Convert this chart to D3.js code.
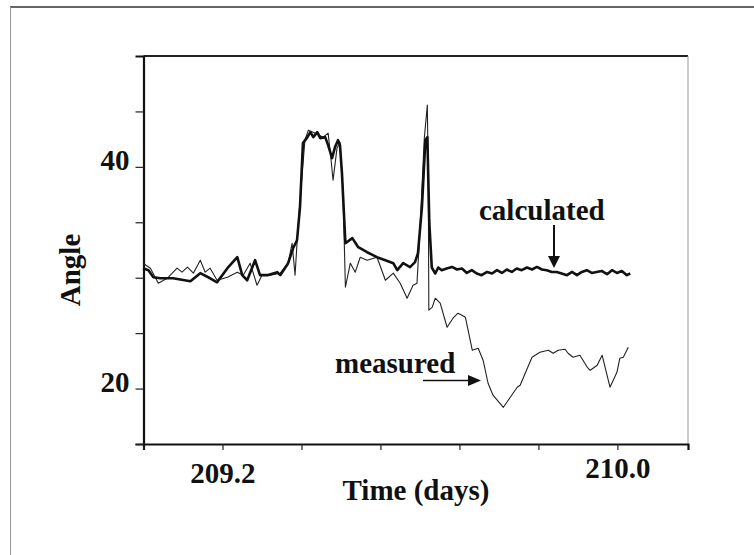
<!DOCTYPE html>
<html>
<head>
<meta charset="utf-8">
<script src="https://cdn.jsdelivr.net/npm/d3@7"></script>
<style>
  body { margin: 0; background: #fff; }
  text { font-family: "Liberation Serif", "Times New Roman", serif; font-weight: bold; fill: #111; }
</style>
</head>
<body>
<div id="chart"></div>
<script>
// calculated angle (thick line)
const calcTime = [209.039, 209.050, 209.060, 209.074, 209.100, 209.135, 209.155, 209.175, 209.189, 209.210,
  209.230, 209.240, 209.250, 209.266, 209.276, 209.291, 209.311, 209.317, 209.333, 209.343,
  209.351, 209.357, 209.363, 209.372, 209.378, 209.384, 209.392, 209.398, 209.408, 209.414,
  209.422, 209.428, 209.434, 209.438, 209.442, 209.449, 209.463, 209.475, 209.493, 209.513,
  209.530, 209.546, 209.554, 209.566, 209.580, 209.590, 209.596, 209.604, 209.611, 209.615,
  209.619, 209.624, 209.631, 209.637, 209.644, 209.654, 209.665, 209.675, 209.685, 209.695,
  209.705, 209.715, 209.725, 209.736, 209.746, 209.756, 209.766, 209.776, 209.786, 209.796,
  209.806, 209.817, 209.827, 209.837, 209.847, 209.857, 209.867, 209.877, 209.887, 209.898,
  209.908, 209.918, 209.928, 209.938, 209.948, 209.958, 209.968, 209.979, 209.989, 209.999,
  210.009, 210.019, 210.026];
const calcAngle = [30.86, 30.68, 30.05, 29.95, 29.95, 29.68, 30.41, 29.95, 29.59, 30.86,
  31.85, 30.23, 29.77, 31.58, 30.23, 30.23, 30.50, 30.23, 31.31, 32.66,
  33.38, 36.36, 42.14, 42.68, 43.13, 42.68, 43.13, 42.59, 42.68, 41.96,
  40.79, 41.78, 42.41, 41.96, 39.43, 33.11, 33.57, 32.75, 32.30, 31.85,
  31.58, 31.31, 30.68, 31.31, 30.95, 31.40, 32.21, 36.36, 42.41, 42.68,
  34.92, 30.92, 30.38, 30.92, 30.68, 30.83, 30.97, 30.74, 30.83, 30.43,
  30.68, 30.38, 30.23, 30.52, 30.38, 30.68, 30.43, 30.74, 30.52, 30.83,
  30.68, 30.92, 30.74, 30.97, 30.74, 30.68, 30.52, 30.52, 30.38, 30.23,
  30.52, 30.23, 30.52, 30.68, 30.43, 30.52, 30.61, 30.32, 30.68, 30.43,
  30.61, 30.23, 30.38];

// measured angle (thin line)
const measTime = [209.039, 209.054, 209.070, 209.088, 209.108, 209.118, 209.129, 209.141, 209.155, 209.165,
  209.175, 209.189, 209.210, 209.230, 209.242, 209.256, 209.270, 209.280, 209.297, 209.317,
  209.333, 209.341, 209.347, 209.351, 209.357, 209.367, 209.374, 209.388, 209.404, 209.414,
  209.420, 209.424, 209.432, 209.438, 209.444, 209.449, 209.459, 209.469, 209.479, 209.493,
  209.513, 209.530, 209.546, 209.560, 209.574, 209.586, 209.594, 209.600, 209.609, 209.615,
  209.617, 209.618, 209.625, 209.631, 209.641, 209.655, 209.667, 209.677, 209.685, 209.692,
  209.706, 209.718, 209.728, 209.738, 209.748, 209.769, 209.783, 209.797, 209.803, 209.827,
  209.843, 209.860, 209.870, 209.880, 209.894, 209.900, 209.910, 209.924, 209.939, 209.945,
  209.959, 209.969, 209.985, 209.999, 210.005, 210.012, 210.022];
const measAngle = [31.31, 30.86, 29.50, 29.95, 30.86, 30.50, 30.95, 30.41, 31.58, 30.50,
  30.86, 29.77, 30.05, 30.50, 30.23, 31.31, 29.32, 30.23, 30.23, 30.41,
  31.31, 33.11, 30.23, 33.11, 36.99, 42.41, 43.31, 43.04, 42.68, 43.04,
  40.60, 38.80, 41.69, 42.23, 37.90, 29.14, 31.31, 30.50, 31.85, 31.58,
  31.85, 29.77, 30.41, 29.50, 28.15, 29.32, 29.50, 34.29, 42.68, 45.57,
  37.90, 27.07, 27.34, 28.15, 27.70, 25.53, 26.35, 26.80, 26.62, 26.44,
  23.46, 23.64, 22.55, 20.48, 19.40, 18.31, 19.22, 20.12, 20.30, 22.83,
  23.28, 23.46, 23.19, 23.46, 23.55, 23.19, 22.83, 23.01, 21.92, 21.65,
  22.10, 23.01, 20.12, 21.47, 22.74, 22.83, 23.73];

// axis ticks
const xTicks = [209.04, 209.2, 209.36, 209.52, 209.68, 209.84, 210.0];
const xTickLabels = ["", "209.2", "", "", "", "", "210.0"];
const yTicks = [15, 20, 25, 30, 35, 40, 45];
const yTickLabels = ["", "20", "", "", "", "40", ""];

const W = 754, H = 555;
const margin = { top: 56, right: 66, bottom: 111, left: 143.5 };
const width = W - margin.left - margin.right,
      height = H - margin.top - margin.bottom;

const svg = d3.select("#chart")
  .append("svg")
  .attr("width", W)
  .attr("height", H);

svg.append("rect").attr("width", W).attr("height", H).attr("fill", "#fff");

// scanned page frame (only top and left edges show)
svg.append("line").attr("x1", 10).attr("x2", W).attr("y1", 7).attr("y2", 7)
  .attr("stroke", "#333").attr("stroke-width", 1.6);
svg.append("line").attr("x1", 10.5).attr("x2", 10.5).attr("y1", 7).attr("y2", H)
  .attr("stroke", "#999").attr("stroke-width", 1);

const g = svg.append("g")
  .attr("transform", `translate(${margin.left},${margin.top})`);

const x = d3.scaleLinear().domain([209.04, 210.143]).range([0, width]);
const y = d3.scaleLinear().domain([15, 50]).range([height, 0]);

// box top + right
g.append("line").attr("x1", 0).attr("x2", width).attr("y1", 0).attr("y2", 0)
  .attr("stroke", "#222").attr("stroke-width", 1.8);
g.append("line").attr("x1", width).attr("x2", width).attr("y1", 0).attr("y2", height)
  .attr("stroke", "#999").attr("stroke-width", 1);

// X axis
const xAxis = g.append("g")
  .attr("transform", `translate(0,${height})`)
  .call(d3.axisBottom(x).tickValues(xTicks).tickSize(6)
    .tickFormat((d, i) => xTickLabels[i]));
xAxis.select(".domain").attr("stroke", "#111").attr("stroke-width", 2.2);
xAxis.selectAll(".tick line").attr("stroke", "#222").attr("stroke-width", 1.2);
xAxis.selectAll(".tick text")
  .attr("font-size", 29).attr("dy", 0)
  .attr("y", (d, i) => i === 1 ? 39 : 34)
  .style("font-family", "Liberation Serif").style("font-weight", "bold").attr("fill", "#111");

// Y axis
const yAxis = g.append("g")
  .call(d3.axisLeft(y).tickValues(yTicks).tickSize(8)
    .tickFormat((d, i) => yTickLabels[i]));
yAxis.select(".domain").attr("stroke", "#111").attr("stroke-width", 2.2);
yAxis.selectAll(".tick line").attr("stroke", "#222").attr("stroke-width", 1.2);
yAxis.selectAll(".tick text")
  .attr("font-size", 29).attr("dy", 0).attr("y", 3).attr("x", -14)
  .style("font-family", "Liberation Serif").style("font-weight", "bold").attr("fill", "#111");

// lines
const calcData = calcTime.map((t, i) => [t, calcAngle[i]]);
const measData = measTime.map((t, i) => [t, measAngle[i]]);
const line = d3.line().x(d => x(d[0])).y(d => y(d[1]));

g.append("path").datum(measData)
  .attr("d", line).attr("fill", "none")
  .attr("stroke", "#222").attr("stroke-width", 1.1).attr("stroke-linejoin", "round");
g.append("path").datum(calcData)
  .attr("d", line).attr("fill", "none")
  .attr("stroke", "#111").attr("stroke-width", 2.6).attr("stroke-linejoin", "round");

// axis titles
svg.append("text").attr("x", 416).attr("y", 500)
  .attr("text-anchor", "middle").attr("font-size", 29).text("Time (days)");
svg.append("text").attr("transform", "translate(80,270) rotate(-90)")
  .attr("text-anchor", "middle").attr("font-size", 29).text("Angle");

// annotations
svg.append("text").attr("x", 479).attr("y", 220).attr("font-size", 29).text("calculated");
svg.append("line").attr("x1", 554).attr("x2", 554).attr("y1", 225).attr("y2", 258)
  .attr("stroke", "#111").attr("stroke-width", 2);
svg.append("path").attr("d", "M548,256 L560,256 L554,268 Z").attr("fill", "#111");

svg.append("text").attr("x", 335).attr("y", 373).attr("font-size", 29).text("measured");
svg.append("line").attr("x1", 423).attr("x2", 470).attr("y1", 380.5).attr("y2", 380.5)
  .attr("stroke", "#111").attr("stroke-width", 1.6);
svg.append("path").attr("d", "M468,375 L481,380.5 L468,386 Z").attr("fill", "#111");
</script>
</body>
</html>
